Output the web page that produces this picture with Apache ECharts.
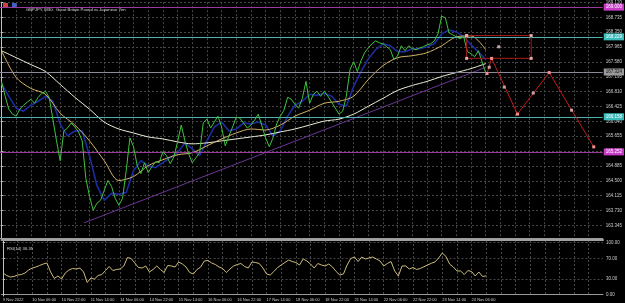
<!DOCTYPE html>
<html><head><meta charset="utf-8">
<script src="https://cdn.jsdelivr.net/npm/echarts@6/dist/echarts.min.js"></script>
<style>html,body{margin:0;padding:0;background:#000;overflow:hidden}#c{width:625px;height:303px}</style>
</head><body><div id="c"></div>
<script>
// time axis: unit = 1 hour of trading bars from the left edge (9 Nov 14:00)
const tickLabels = ['9 Nov 2022','10 Nov 06:00','10 Nov 22:00','11 Nov 14:00','14 Nov 06:00','14 Nov 22:00','15 Nov 14:00','16 Nov 06:00','16 Nov 22:00','17 Nov 14:00','18 Nov 06:00','18 Nov 22:00','21 Nov 14:00','22 Nov 06:00','22 Nov 22:00','23 Nov 14:00','24 Nov 06:00'];
const priceTicks = [163.345,163.730,164.115,164.500,164.885,165.270,165.655,166.040,166.425,166.810,167.195,167.580,167.965,168.350,168.735,169.120];
const rsiTicks = [0,30,70,100];

// close prices, one every 2 hours
const price = [167.075,166.690,166.356,166.228,166.176,166.356,166.459,166.536,166.613,166.510,
166.664,166.767,166.818,166.664,166.099,165.535,165.021,165.791,165.868,165.997,
165.894,165.766,165.535,164.559,164.097,163.738,163.918,163.995,164.251,164.508,
164.354,164.046,163.866,164.046,164.765,165.612,165.381,164.893,164.688,164.970,
164.713,164.867,164.996,164.970,165.252,165.150,164.944,165.124,165.509,165.945,
165.535,165.201,164.970,165.098,165.227,165.997,166.099,165.868,166.022,166.176,
165.894,165.406,165.663,165.894,166.151,166.125,165.997,165.868,165.945,166.074,
166.228,165.920,165.612,165.381,165.612,165.971,166.176,166.330,166.664,166.613,
166.484,166.382,166.638,167.075,166.510,166.741,166.818,166.690,166.818,166.690,
166.536,166.382,166.228,166.305,166.690,167.383,167.588,167.331,167.614,167.819,
167.947,168.050,168.127,168.076,168.050,167.973,167.896,167.639,167.742,167.999,
167.870,167.999,167.922,167.896,167.947,167.973,168.024,168.050,168.127,168.307,
168.769,168.717,168.332,168.281,168.230,168.178,168.230,167.845,167.793,167.716,
167.870,167.588,167.300];
// fast MA, one every 4 hours
const blueMA = [167.023,166.690,166.382,166.305,166.459,166.561,166.690,166.561,165.971,165.663,
165.791,165.791,165.150,164.380,163.995,164.174,164.149,164.200,164.765,165.021,
164.893,164.842,164.970,165.098,165.227,165.483,165.329,165.150,165.535,165.894,
166.022,165.791,165.843,165.997,165.971,166.022,165.945,165.663,165.791,166.176,
166.459,166.561,166.741,166.715,166.767,166.690,166.484,166.433,166.946,167.331,
167.665,167.896,168.050,167.999,167.845,167.845,167.922,167.922,167.973,168.050,
168.307,168.409,168.358,168.230,168.024,167.845,167.639];
// medium and slow MAs, one every 8 hours
const yellowMA = [167.870,167.177,166.895,166.741,166.253,165.945,165.535,165.021,164.508,164.611,
164.893,165.047,165.175,165.227,165.406,165.586,165.740,165.843,165.817,165.945,
166.176,166.330,166.510,166.561,166.690,167.126,167.485,167.691,167.742,167.819,
167.999,168.230,168.255,167.896];
const whiteMA = [167.870,167.691,167.511,167.331,166.998,166.664,166.356,166.022,165.843,165.740,
165.637,165.586,165.509,165.458,165.483,165.535,165.586,165.637,165.689,165.766,
165.843,165.945,166.048,166.099,166.228,166.433,166.638,166.844,166.972,167.075,
167.203,167.306,167.408,167.537];
// RSI(14), one every 2 hours
const rsi = [41.7,36.9,34.0,35.0,37.9,38.8,41.7,47.5,51.3,53.3,
56.2,59.0,61.0,43.7,31.2,36.0,30.2,41.7,47.5,50.4,
49.4,51.3,43.7,23.5,32.1,30.2,36.9,38.8,46.5,54.2,
46.5,48.5,49.4,55.2,71.5,69.6,61.0,52.3,51.3,55.2,
43.7,48.5,55.2,48.5,42.7,56.2,55.2,53.3,62.9,59.0,
53.3,42.7,39.8,48.5,53.3,64.8,65.8,61.0,58.1,53.3,
50.4,42.7,49.4,55.2,58.1,60.0,54.2,51.3,62.9,61.9,
60.0,51.3,39.8,37.9,44.6,52.3,57.1,61.9,66.7,63.8,
61.9,57.1,68.7,64.8,59.0,51.3,60.0,57.1,55.2,59.0,
53.3,44.6,37.9,39.8,57.1,69.6,72.5,63.8,72.5,68.7,
70.6,72.5,68.7,64.8,55.2,60.0,63.8,45.6,36.0,55.2,
55.2,49.4,52.3,48.5,50.4,53.8,57.1,60.4,62.9,70.6,
80.2,73.5,59.0,53.3,45.6,45.6,38.8,46.5,44.6,36.0,
43.7,35.0,36.35];

const trendTime = [45.05, 263.6], trendPrice = [163.412, 167.434];
const rectTime = [253.6, 288.8], rectPrice = [168.263, 167.673];
const rectMidTime = [271.1], rectMidPrice = [167.973];
const zigTime = [264.7, 267.2, 281.3, 298.6, 322.9];
const zigPrice = [167.280, 167.672, 166.228, 167.305, 165.380];
const zigMidTime = [265.9, 274.1, 289.9, 310.8];
const zigMidPrice = [167.442, 166.928, 166.774, 166.330];
const levelValues = [169.000, 168.229, 167.324, 166.158, 165.252];
const levelKinds = ['purple','cyan','bid','cyan','purple'];

const pairs = (arr, step) => arr.map((v, j) => [j * step, v]);
const zipP = (xs, ys) => xs.map((x, j) => [x, ys[j]]);

const styles = {
  purple: {line: '#9a3a9a', bg: '#c83cc8', fg: '#ffffff'},
  cyan: {line: '#4fb0b0', bg: '#3cbcbc', fg: '#ffffff'},
  bid: {line: '#8c8a98', bg: '#9a9a9a', fg: '#111111'}
};

const gridTicks = []; for (let t = 0; t <= 327; t += 8) gridTicks.push(t);
const labelTicks = tickLabels.map((_, j) => j * 16);

const splitStyle = {show: true, lineStyle: {color: '#474747', type: [2, 2], width: 1}};
const xMin = -0.816, xMax = 327.8;

const rectPath = [[rectTime[0], rectPrice[0]], [rectTime[1], rectPrice[0]], [rectTime[1], rectPrice[1]], [rectTime[0], rectPrice[1]], [rectTime[0], rectPrice[0]]];

const chart = echarts.init(document.getElementById('c'), null, {renderer: 'canvas'});
chart.setOption({
  backgroundColor: '#000',
  animation: false,
  title: [
    {text: 'GBPJPY, M30:  Great Britain Pound vs Japanese Yen', left: 21, top: 3, textStyle: {fontSize: 4.2, color: '#d8d8d8', fontWeight: 'normal', fontFamily: 'Liberation Sans'}},
    {text: 'RSI(14) 36.35', left: 2, top: 242, textStyle: {fontSize: 4.2, color: '#d8d8d8', fontWeight: 'normal', fontFamily: 'Liberation Sans'}}
  ],
  graphic: [
    {type: 'rect', shape: {x: 3, y: 3, width: 5, height: 5}, style: {fill: '#d04040'}},
    {type: 'rect', shape: {x: 12, y: 3, width: 5, height: 5}, style: {fill: '#4060d0'}}
  ],
  grid: [
    {left: -1, top: 0, width: 604, height: 238},
    {left: -1, top: 240, width: 604, height: 56}
  ],
  xAxis: [
    {gridIndex: 0, type: 'value', min: xMin, max: xMax,
     axisLine: {show: true, lineStyle: {color: '#9a9a9a'}}, axisTick: {show: false, customValues: gridTicks},
     axisLabel: {show: false}, splitLine: splitStyle},
    {gridIndex: 1, type: 'value', min: xMin, max: xMax,
     axisLine: {show: true, lineStyle: {color: '#9a9a9a'}}, axisTick: {show: false, customValues: gridTicks},
     axisLabel: {show: true, customValues: labelTicks, formatter: v => tickLabels[Math.round(v / 16)],
       align: 'left', fontSize: 4, color: '#cfcfcf', margin: 2, fontFamily: 'Liberation Sans'},
     splitLine: splitStyle},
    {gridIndex: 1, type: 'value', position: 'top', min: xMin, max: xMax,
     axisLine: {show: true, lineStyle: {color: '#a0a0a0', width: 2}}, axisTick: {show: false},
     axisLabel: {show: false}, splitLine: {show: false}}
  ],
  yAxis: [
    {gridIndex: 0, type: 'value', position: 'right', min: 163.019, max: 169.128,
     axisLine: {show: true, lineStyle: {color: '#c0c0c0'}},
     axisTick: {show: true, length: 2, customValues: priceTicks, lineStyle: {color: '#c0c0c0'}},
     axisLabel: {show: true, customValues: priceTicks, formatter: v => v.toFixed(3), fontSize: 4.5, color: '#cfcfcf', margin: 3, fontFamily: 'Liberation Sans'},
     splitLine: splitStyle},
    {gridIndex: 1, type: 'value', position: 'right', min: -2.5, max: 105.2,
     axisLine: {show: true, lineStyle: {color: '#c0c0c0'}},
     axisTick: {show: true, length: 2, customValues: rsiTicks, lineStyle: {color: '#c0c0c0'}},
     axisLabel: {show: true, customValues: rsiTicks, formatter: v => v.toFixed(2), fontSize: 4.5, color: '#cfcfcf', margin: 3, fontFamily: 'Liberation Sans'},
     splitLine: splitStyle}
  ],
  series: [
    {type: 'line', name: 'levels', xAxisIndex: 0, yAxisIndex: 0, data: [], symbol: 'none', z: 1,
     markLine: {symbol: 'none', silent: true, animation: false,
       data: levelValues.map((v, j) => {
         const s = styles[levelKinds[j]];
         return {yAxis: v, lineStyle: {color: s.line, width: 1, type: 'solid'},
           label: {show: true, position: 'end', distance: 1, formatter: v.toFixed(3), fontSize: 4.5,
             color: s.fg, backgroundColor: s.bg, padding: [1, 2, 1, 2], fontFamily: 'Liberation Sans'}};
       })}},
    {type: 'line', name: 'trend', xAxisIndex: 0, yAxisIndex: 0, data: zipP(trendTime, trendPrice), symbol: 'none',
     lineStyle: {color: '#6b3592', width: 1}, z: 2},
    {type: 'line', name: 'blue', xAxisIndex: 0, yAxisIndex: 0, data: pairs(blueMA, 4), symbol: 'none',
     lineStyle: {color: '#1d2c9e', width: 1.6}, z: 3},
    {type: 'line', name: 'white', xAxisIndex: 0, yAxisIndex: 0, data: pairs(whiteMA, 8), symbol: 'none', smooth: 0.3,
     lineStyle: {color: '#eeecd8', width: 1}, z: 4},
    {type: 'line', name: 'yellow', xAxisIndex: 0, yAxisIndex: 0, data: pairs(yellowMA, 8), symbol: 'none', smooth: 0.3,
     lineStyle: {color: '#d3b467', width: 1}, z: 4},
    {type: 'line', name: 'price', xAxisIndex: 0, yAxisIndex: 0, data: pairs(price, 2), symbol: 'none',
     lineStyle: {color: '#3fc23f', width: 1}, z: 5},
    {type: 'line', name: 'rect', xAxisIndex: 0, yAxisIndex: 0, data: rectPath, symbol: 'rect', symbolSize: 3, showSymbol: true,
     itemStyle: {color: '#e8a8a8'}, lineStyle: {color: '#a81818', width: 1}, z: 6},
    {type: 'scatter', name: 'rectMid', xAxisIndex: 0, yAxisIndex: 0, data: zipP(rectMidTime, rectMidPrice), symbol: 'rect', symbolSize: 3,
     itemStyle: {color: '#f0d0d0'}, z: 6},
    {type: 'line', name: 'zigzag', xAxisIndex: 0, yAxisIndex: 0, data: zipP(zigTime, zigPrice), symbol: 'rect', symbolSize: 3, showSymbol: true,
     itemStyle: {color: '#f09090'}, lineStyle: {color: '#c41c1c', width: 1}, z: 7},
    {type: 'scatter', name: 'zigMid', xAxisIndex: 0, yAxisIndex: 0, data: zipP(zigMidTime, zigMidPrice), symbol: 'rect', symbolSize: 3,
     itemStyle: {color: '#f0c8c8'}, z: 7},
    {type: 'line', name: 'rsi', xAxisIndex: 1, yAxisIndex: 1, data: pairs(rsi, 2), symbol: 'none',
     lineStyle: {color: '#cdbc7c', width: 1}, z: 5}
  ]
});
</script></body></html>
